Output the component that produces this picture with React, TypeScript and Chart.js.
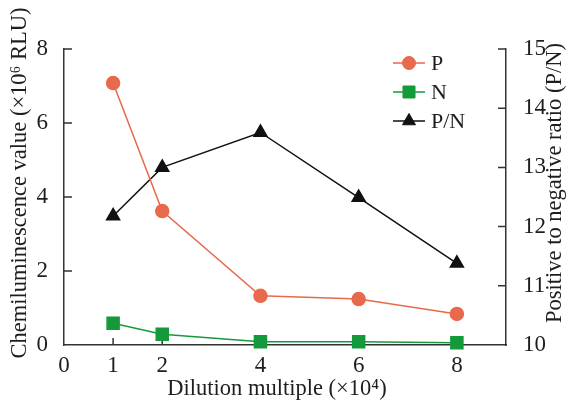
import { useEffect, useRef } from 'react';
import { Chart, registerables } from 'chart.js';
import { drawPoint } from 'chart.js/helpers';

Chart.register(...registerables);

const dilution = [1, 2, 4, 6, 8];
const pValues = [7.08, 3.62, 1.33, 1.24, 0.84];
const nValues = [0.59, 0.29, 0.09, 0.09, 0.06];
const ratioValues = [12.18, 13.0, 13.59, 12.49, 11.38];
const xTicks = [0, 1, 2, 4, 6, 8];
const leftTicks = [0, 2, 4, 6, 8];
const rightTicks = [10, 11, 12, 13, 14, 15];
const seriesNames = ['P', 'N', 'P/N'];
const xTitle = 'Dilution multiple (×10⁴)';
const leftTitle = 'Chemiluminescence value (×10⁶ RLU)';
const rightTitle = 'Positive to negative ratio (P/N)';

const FONT = '"Liberation Serif", "Times New Roman", serif';
const AXIS = '#333333';
const TEXT = '#1e1e1e';
const P_COLOR = '#E8694B';
const N_COLOR = '#159A3B';
const R_COLOR = '#111111';

const innerTicks = {
  id: 'innerTicks',
  beforeDatasetsDraw(chart: any) {
    const { ctx, chartArea, scales } = chart;
    ctx.save();
    ctx.strokeStyle = AXIS;
    ctx.lineWidth = 1.5;
    ctx.beginPath();
    leftTicks.forEach((v) => {
      if (v === 0) return;
      const y = scales.y.getPixelForValue(v);
      ctx.moveTo(chartArea.left, y);
      ctx.lineTo(chartArea.left + 8, y);
    });
    rightTicks.forEach((v) => {
      if (v === 10) return;
      const y = scales.y1.getPixelForValue(v);
      ctx.moveTo(chartArea.right, y);
      ctx.lineTo(chartArea.right - 8, y);
    });
    xTicks.forEach((v) => {
      if (v === 0) return;
      const x = scales.x.getPixelForValue(v);
      ctx.moveTo(x, chartArea.bottom);
      ctx.lineTo(x, chartArea.bottom - 7);
    });
    ctx.stroke();
    ctx.restore();
  },
};

const titlesAndLegend = {
  id: 'titlesAndLegend',
  afterDraw(chart: any) {
    const { ctx } = chart;
    ctx.save();
    ctx.fillStyle = TEXT;
    ctx.font = `22.5px ${FONT}`;
    ctx.textAlign = 'center';
    ctx.textBaseline = 'middle';
    // x title
    ctx.fillText(xTitle, 277, 389);
    // left title
    ctx.save();
    ctx.translate(20, 183);
    ctx.rotate(-Math.PI / 2);
    ctx.fillText(leftTitle, 0, 0);
    ctx.restore();
    // right title
    ctx.save();
    ctx.translate(555, 183);
    ctx.rotate(-Math.PI / 2);
    ctx.fillText(rightTitle, 0, 0);
    ctx.restore();

    // legend
    ctx.font = `22px ${FONT}`;
    const ys = [63, 92, 121];
    chart.data.datasets.forEach((ds: any, i: number) => {
      const y = ys[i];
      ctx.strokeStyle = ds.borderColor;
      ctx.lineWidth = 1.5;
      ctx.beginPath();
      ctx.moveTo(393, y);
      ctx.lineTo(425, y);
      ctx.stroke();
      ctx.fillStyle = ds.pointBackgroundColor;
      ctx.strokeStyle = ds.pointBorderColor;
      ctx.lineWidth = 1;
      drawPoint(ctx, { pointStyle: ds.pointStyle, radius: ds.pointRadius, rotation: 0, borderWidth: 1 }, 409, y);
      ctx.fillStyle = TEXT;
      ctx.textAlign = 'left';
      ctx.fillText(seriesNames[i], 431, y + 1);
    });
    ctx.restore();
  },
};

export default function App() {
  const ref = useRef<HTMLCanvasElement>(null);
  useEffect(() => {
    if (!ref.current) return;
    const tickFont = { family: FONT, size: 23 };
    const chart = new Chart(ref.current, {
      type: 'line',
      data: {
        datasets: [
          {
            label: seriesNames[0],
            data: dilution.map((x, i) => ({ x, y: pValues[i] })),
            yAxisID: 'y',
            borderColor: P_COLOR,
            backgroundColor: P_COLOR,
            pointBackgroundColor: P_COLOR,
            pointBorderColor: P_COLOR,
            pointStyle: 'circle',
            pointRadius: 6.5,
            borderWidth: 1.5,
            clip: false,
          },
          {
            label: seriesNames[1],
            data: dilution.map((x, i) => ({ x, y: nValues[i] })),
            yAxisID: 'y',
            borderColor: N_COLOR,
            backgroundColor: N_COLOR,
            pointBackgroundColor: N_COLOR,
            pointBorderColor: N_COLOR,
            pointStyle: 'rect',
            pointRadius: 8.5,
            borderWidth: 1.5,
            clip: false,
          },
          {
            label: seriesNames[2],
            data: dilution.map((x, i) => ({ x, y: ratioValues[i] })),
            yAxisID: 'y1',
            borderColor: R_COLOR,
            backgroundColor: R_COLOR,
            pointBackgroundColor: R_COLOR,
            pointBorderColor: R_COLOR,
            pointStyle: 'triangle',
            pointRadius: 7.5,
            borderWidth: 1.5,
            clip: false,
          },
        ],
      } as any,
      options: {
        responsive: false,
        animation: false,
        layout: { padding: { top: 49, left: 0, right: 0, bottom: 0 } },
        plugins: { legend: { display: false }, tooltip: { enabled: false } },
        scales: {
          x: {
            type: 'linear',
            min: 0,
            max: 9,
            grid: { display: false },
            border: { display: true, color: AXIS, width: 1.5 },
            ticks: { font: tickFont, color: TEXT, padding: -1, maxRotation: 0 },
            afterBuildTicks: (s: any) => {
              s.ticks = xTicks.map((value) => ({ value }));
            },
            afterFit: (s: any) => {
              s.height = 58;
            },
          },
          y: {
            type: 'linear',
            position: 'left',
            min: 0,
            max: 8,
            grid: { display: false },
            border: { display: true, color: AXIS, width: 1.5 },
            ticks: { font: tickFont, color: TEXT, padding: 8 },
            afterBuildTicks: (s: any) => {
              s.ticks = leftTicks.map((value) => ({ value }));
            },
            afterFit: (s: any) => {
              s.width = 64;
            },
          },
          y1: {
            type: 'linear',
            position: 'right',
            min: 10,
            max: 15,
            grid: { display: false },
            border: { display: true, color: AXIS, width: 1.5 },
            ticks: { font: tickFont, color: TEXT, padding: 9 },
            afterBuildTicks: (s: any) => {
              s.ticks = rightTicks.map((value) => ({ value }));
            },
            afterFit: (s: any) => {
              s.width = 64;
            },
          },
        },
      } as any,
      plugins: [innerTicks, titlesAndLegend],
    });
    return () => chart.destroy();
  }, []);
  return (
    <div style={{ position: 'fixed', left: 0, top: 0, width: 570, height: 403, background: '#fff' }}>
      <canvas ref={ref} width={570} height={403} />
    </div>
  );
}
